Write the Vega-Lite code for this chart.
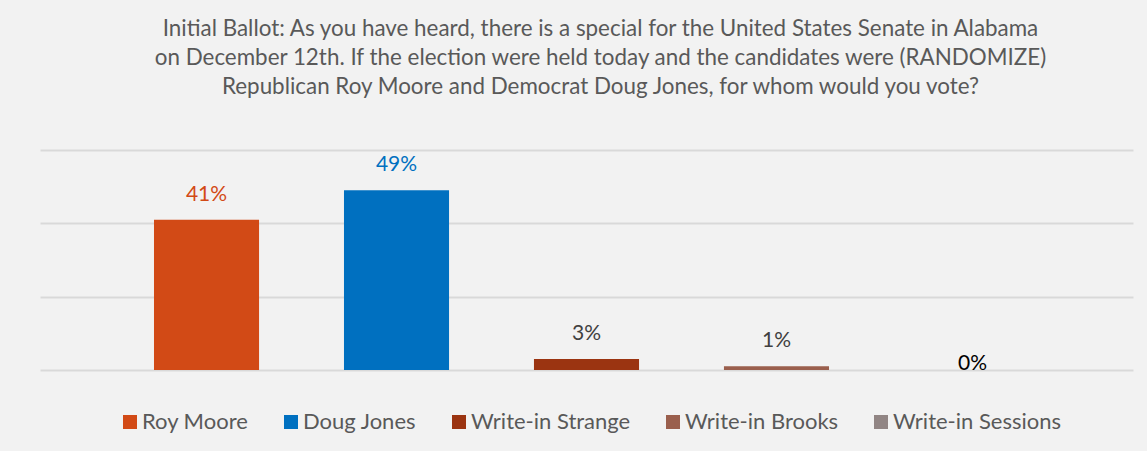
{
  "$schema": "https://vega.github.io/schema/vega-lite/v6.json",
  "width": 1093,
  "height": 220,
  "autosize": {"type": "none"},
  "padding": {"left": 40, "top": 150, "right": 14, "bottom": 81},
  "background": "#F2F2F2",
  "config": {"view": {"stroke": null}},
  "title": {
    "text": [
      "Initial Ballot: As you have heard, there is a special for the United States Senate in Alabama",
      "on December 12th. If the election were held today and the candidates were (RANDOMIZE)",
      "Republican Roy Moore and Democrat Doug Jones, for whom would you vote?"
    ],
    "anchor": "middle",
    "dx": 14,
    "offset": 52,
    "font": "Lato",
    "fontSize": 22.4,
    "fontWeight": "normal",
    "color": "#595959",
    "lineHeight": 29
  },
  "data": {
    "values": [
      {"candidate": "Roy Moore", "share": 0.41},
      {"candidate": "Doug Jones", "share": 0.49},
      {"candidate": "Write-in Strange", "share": 0.03},
      {"candidate": "Write-in Brooks", "share": 0.01},
      {"candidate": "Write-in Sessions", "share": 0.0}
    ]
  },
  "encoding": {
    "x": {
      "field": "candidate",
      "type": "nominal",
      "sort": null,
      "scale": {"paddingInner": 0.447, "paddingOuter": 0.6},
      "axis": null
    },
    "y": {
      "field": "share",
      "type": "quantitative",
      "scale": {"domain": [0, 0.6]},
      "axis": {
        "values": [0, 0.2, 0.4, 0.6],
        "labels": false,
        "ticks": false,
        "domain": false,
        "title": null,
        "grid": true,
        "gridColor": "#D9D9D9",
        "gridWidth": 2
      }
    }
  },
  "layer": [
    {
      "mark": {"type": "bar"},
      "encoding": {
        "color": {
          "field": "candidate",
          "type": "nominal",
          "sort": null,
          "scale": {
            "domain": ["Roy Moore", "Doug Jones", "Write-in Strange", "Write-in Brooks", "Write-in Sessions"],
            "range": ["#D24A16", "#0070C0", "#9B3411", "#9A5F4D", "#918584"]
          },
          "legend": {
            "orient": "none",
            "legendX": 79,
            "legendY": 261,
            "direction": "horizontal",
            "columns": 5,
            "title": null,
            "symbolType": "square",
            "symbolSize": 196,
            "symbolStrokeWidth": 0,
            "labelFont": "Lato",
            "labelFontSize": 22,
            "labelColor": "#595959",
            "labelOffset": 1,
            "columnPadding": 31,
            "labelLimit": 400
          }
        }
      }
    },
    {
      "transform": [{"filter": "datum.share > 0"}],
      "mark": {"type": "text", "baseline": "alphabetic", "dy": -19, "font": "Lato", "fontSize": 21},
      "encoding": {
        "text": {"field": "share", "type": "quantitative", "format": ".0%"},
        "color": {
          "condition": [
            {"test": "datum.candidate === 'Roy Moore'", "value": "#D24A16"},
            {"test": "datum.candidate === 'Doug Jones'", "value": "#0070C0"}
          ],
          "value": "#404040"
        }
      }
    },
    {
      "transform": [{"filter": "datum.share == 0"}],
      "mark": {"type": "text", "baseline": "alphabetic", "dy": 0, "dx": 6, "font": "Lato", "fontSize": 21, "color": "#000000"},
      "encoding": {
        "text": {"field": "share", "type": "quantitative", "format": ".0%"}
      }
    }
  ]
}
